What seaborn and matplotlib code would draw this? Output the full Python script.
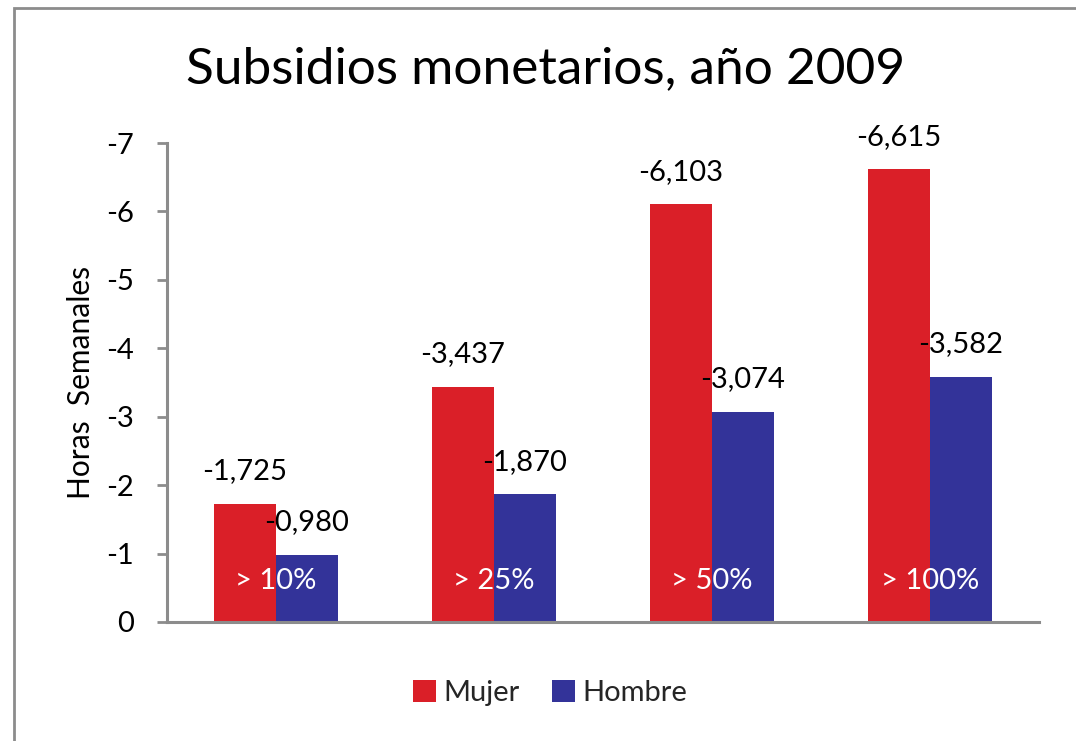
import pandas as pd
import seaborn as sns
import matplotlib.pyplot as plt
from matplotlib.patches import Rectangle
from matplotlib.transforms import blended_transform_factory

sns.set_theme(style='white')
plt.rcParams['font.family'] = ['Lato', 'DejaVu Sans']
plt.rcParams['axes.unicode_minus'] = False

# data (hours per week)
rangos = ['> 10%', '> 25%', '> 50%', '> 100%']
mujer = [-1.725, -3.437, -6.103, -6.615]
hombre = [-0.980, -1.870, -3.074, -3.582]
series = ['Mujer', 'Hombre']
yticks = [0, -1, -2, -3, -4, -5, -6, -7]

red = '#DA1F28'
blue = '#333399'
grey = '#8C8C8C'

df = pd.DataFrame({
    'rango': rangos * 2,
    'horas': mujer + hombre,
    'sexo': ['Mujer'] * len(rangos) + ['Hombre'] * len(rangos),
})

fig = plt.figure(figsize=(10.76, 7.41), dpi=100)
ax = fig.add_axes([0.1552, 0.1606, 0.8104, 0.6464])

sns.barplot(data=df, x='rango', y='horas', hue='sexo', hue_order=series,
            palette=[red, blue], width=0.57, gap=0, saturation=1,
            errorbar=None, linewidth=0, ax=ax)

ax.set_xlim(-0.5, len(rangos) - 0.5)
ax.set_ylim(0, -7)
ax.set_yticks(yticks)
ax.set_yticklabels([str(t) for t in yticks])

# value labels above bars, comma decimals
for cont in ax.containers:
    ax.bar_label(cont, labels=[f'{v:.3f}'.replace('.', ',') for v in cont.datavalues],
                 padding=14, fontsize=21, color='black')

# category names drawn inside the bars, near the baseline
ax.set_xticks([])
ax.set_xlabel('')
trans = blended_transform_factory(ax.transData, ax.transAxes)
for i, r in enumerate(rangos):
    ax.text(i, 0.086, r, transform=trans, ha='center', va='center',
            color='white', fontsize=21, zorder=5)

for s in ['top', 'right']:
    ax.spines[s].set_visible(False)
for s in ['left', 'bottom']:
    ax.spines[s].set_color(grey)
    ax.spines[s].set_linewidth(2.2)
ax.tick_params(axis='y', left=True, length=7, width=2, color=grey,
               labelsize=21, labelcolor='black', pad=17)

ax.set_ylabel('Horas  Semanales', fontsize=21.5, color='black')
ax.yaxis.set_label_coords(-0.083, 0.5)

fig.text(0.507, 0.906, 'Subsidios monetarios, año 2009', ha='center', va='center',
         fontsize=37, color='black')

ax.legend_.remove()
handles, labels = ax.get_legend_handles_labels()
fig.legend(handles, labels, loc='center', bbox_to_anchor=(0.511, 0.065), ncol=2,
           frameon=False, fontsize=21, handlelength=0.8, handleheight=0.8,
           handletextpad=0.25, columnspacing=1.1)

# chart frame
fig.patches.append(Rectangle((14 / 1076, -0.1), 1.2, 1 - 8 / 741 + 0.1,
                             transform=fig.transFigure, fill=False,
                             edgecolor=grey, linewidth=2, zorder=10))

fig.savefig('out.png', dpi=100)
